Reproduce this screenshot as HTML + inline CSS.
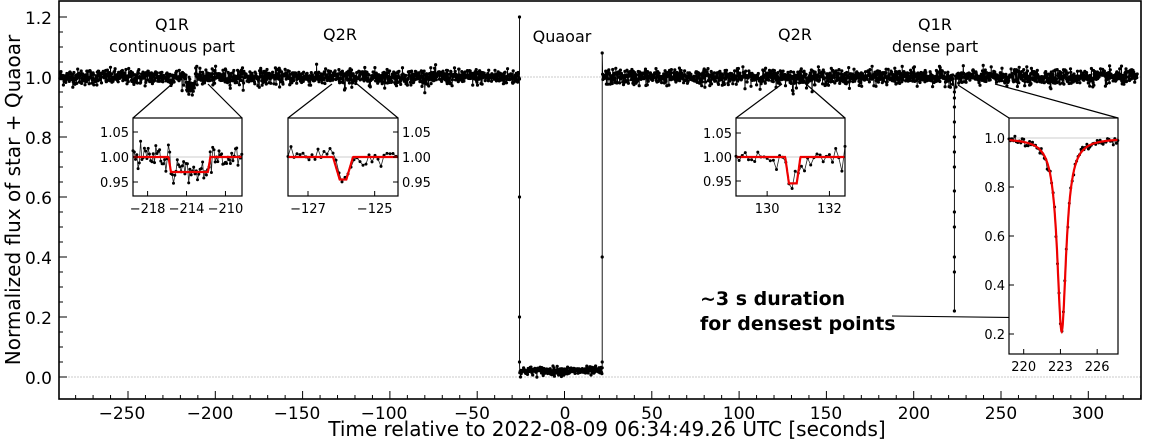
<!DOCTYPE html>
<html><head><meta charset="utf-8"><style>
html,body{margin:0;padding:0;background:#fff;}
svg{display:block;font-family:"DejaVu Sans","Liberation Sans",sans-serif;}
</style></head><body>
<svg id="s" width="1152" height="439" viewBox="0 0 1152 439" xmlns="http://www.w3.org/2000/svg">
<rect width="1152" height="439" fill="#fff"/>
<g id="main"></g>
<rect x="59" y="1" width="1082" height="398" fill="none" stroke="#000" stroke-width="1.6"/>
<g font-size="17" fill="#000" text-anchor="end">
<text x="52" y="384">0.0</text><text x="52" y="324">0.2</text><text x="52" y="264">0.4</text>
<text x="52" y="204">0.6</text><text x="52" y="144">0.8</text><text x="52" y="84">1.0</text><text x="52" y="24">1.2</text>
</g>
<g font-size="17" fill="#000" text-anchor="middle">
<text x="122" y="419">−250</text><text x="210" y="419">−200</text><text x="297" y="419">−150</text>
<text x="384" y="419">−100</text><text x="472" y="419">−50</text><text x="565" y="419">0</text>
<text x="652" y="419">50</text><text x="739" y="419">100</text><text x="826" y="419">150</text>
<text x="914" y="419">200</text><text x="1001" y="419">250</text><text x="1088" y="419">300</text>
</g>
<text x="607" y="436" font-size="20" text-anchor="middle">Time relative to 2022-08-09 06:34:49.26 UTC [seconds]</text>
<text transform="translate(20,200) rotate(-90)" font-size="20" text-anchor="middle">Normalized flux of star + Quaoar</text>
<g font-size="16" text-anchor="middle">
<text x="172" y="30">Q1R</text><text x="172" y="52">continuous part</text>
<text x="340" y="40">Q2R</text><text x="562" y="42">Quaoar</text>
<text x="795" y="40">Q2R</text><text x="935" y="30">Q1R</text><text x="935" y="52">dense part</text>
</g>
<g font-size="19" font-weight="bold">
<text x="700" y="305">~3 s duration</text><text x="700" y="330">for densest points</text>
</g>
<line x1="892" y1="316" x2="1052" y2="318" stroke="#000" stroke-width="1"/>
<g stroke="#000" stroke-width="1.2">
<line x1="133" y1="118" x2="172" y2="84"/><line x1="242" y1="118" x2="208" y2="84"/>
<line x1="288" y1="118" x2="332" y2="84"/><line x1="398" y1="118" x2="357" y2="84"/>
<line x1="736" y1="118" x2="782" y2="84"/><line x1="845" y1="118" x2="806" y2="84"/>
<line x1="1009" y1="118" x2="958" y2="85"/><line x1="1118" y1="118" x2="995" y2="84"/>
</g>
<g id="insets"></g>
</svg>
<script>
var NS="http://www.w3.org/2000/svg";
var seed=12345;function rnd(){seed=(seed*1103515245+12345)%2147483648;return seed/2147483648;}
function gauss(){var u=rnd()||1e-9,v=rnd();return Math.sqrt(-2*Math.log(u))*Math.cos(2*Math.PI*v);}
function el(p,tag,a){var e=document.createElementNS(NS,tag);for(var k in a)e.setAttribute(k,a[k]);p.appendChild(e);return e;}
var main=document.getElementById('main');
function X(t){return 564.5+1.746*t;}function Y(f){return 377-300*f;}
var g=main;
el(g,'line',{x1:59,y1:77,x2:1141,y2:77,stroke:'#bbb','stroke-width':0.8,'stroke-dasharray':'2,1'});
el(g,'line',{x1:59,y1:377,x2:1141,y2:377,stroke:'#bbb','stroke-width':0.8,'stroke-dasharray':'2,1'});
for(var t=-280;t<=330;t+=10){var x=X(t);el(g,'line',{x1:x,y1:399,x2:x,y2:(t%50==0)?391:395,stroke:'#000','stroke-width':1});}
for(var f=0;f<=1.25;f+=0.05){var y=Y(f);var maj=Math.abs(f*5-Math.round(f*5))<1e-6;el(g,'line',{x1:59,y1:y,x2:maj?67:63,y2:y,stroke:'#000','stroke-width':1});}
var pts=[];var ing=false,egr=false,dip=false;
for(var t=-289;t<=328;t+=0.2){
 var f;
 if(t>-25.8&&t<21.6){
   if(!ing){ing=true;pts.push([X(-25.8),Y(1.2)]);pts.push([X(-25.8),Y(0.6)]);pts.push([X(-25.8),Y(0.2)]);pts.push([X(-25.8),Y(0.05)]);}
   f=0.02+0.007*gauss();
 } else {
   if(t>=21.6&&!egr){egr=true;pts.push([X(21.6),Y(0.05)]);pts.push([X(21.6),Y(0.4)]);pts.push([X(21.6),Y(1.08)]);}
   f=1+0.013*gauss();
 }
 if(Math.abs(t+214)<2.5)f-=0.03;
 if(Math.abs(t+125.9)<0.3)f-=0.04;
 if(Math.abs(t-130.8)<0.3)f-=0.05;
 if(Math.abs(t-223.3)<0.6){
   if(!dip){dip=true;[0.95,0.9,0.8,0.7,0.55,0.4,0.22,0.35,0.5,0.62,0.75,0.85,0.93].forEach(function(v){pts.push([X(223.3),Y(v)]);});}
   continue;
 }
 pts.push([X(t),Y(f)]);
}
var s='';for(var i=0;i<pts.length;i++)s+=pts[i][0].toFixed(1)+','+pts[i][1].toFixed(1)+' ';
el(g,'polyline',{points:s,fill:'none',stroke:'#000','stroke-width':0.9});
var d='';for(var i=0;i<pts.length;i+=1)d+='M'+pts[i][0].toFixed(1)+' '+pts[i][1].toFixed(1)+'h0.01';
el(g,'path',{d:d,stroke:'#000','stroke-width':3.2,'stroke-linecap':'round',fill:'none'});
var ins=document.getElementById('insets');
function inset(o){
 var G=el(ins,'g',{});
 el(G,'rect',{x:o.x0,y:118,width:o.x1-o.x0,height:o.y1-118,fill:'#fff'});
 var xs=function(t){return o.x0+(t-o.t0)/(o.t1-o.t0)*(o.x1-o.x0);};
 var ys=function(f){return o.yref+(o.fref-f)*o.py;};
 el(G,'line',{x1:o.x0,y1:ys(1),x2:o.x1,y2:ys(1),stroke:'#bbb','stroke-width':0.8});
 var s='',dd='',m='';
 for(var t=o.t0;t<=o.t1;t+=o.dt){var f=o.model(t)+o.sd*gauss();s+=xs(t).toFixed(1)+','+ys(f).toFixed(1)+' ';dd+='M'+xs(t).toFixed(1)+' '+ys(f).toFixed(1)+'h0.01';}
 for(var t=o.t0;t<=o.t1;t+=(o.t1-o.t0)/300){m+=xs(t).toFixed(1)+','+ys(o.model(t)).toFixed(1)+' ';}
 el(G,'polyline',{points:s,fill:'none',stroke:'#222','stroke-width':0.8});
 el(G,'path',{d:dd,stroke:'#000','stroke-width':3,'stroke-linecap':'round'});
 el(G,'polyline',{points:m,fill:'none',stroke:'#e00','stroke-width':2.2});
 el(G,'rect',{x:o.x0,y:118,width:o.x1-o.x0,height:o.y1-118,fill:'none',stroke:'#000','stroke-width':1.2});
 o.xt.forEach(function(t){var x=xs(t);el(G,'line',{x1:x,y1:o.y1,x2:x,y2:o.y1-5,stroke:'#000'});var tx=el(G,'text',{x:x,y:o.y1+17,'font-size':13,'text-anchor':'middle'});tx.textContent=(t<0?'−'+(-t):t);});
 o.yt.forEach(function(f){var y=ys(f);var xe=o.right?o.x1:o.x0;el(G,'line',{x1:xe,y1:y,x2:o.right?xe-5:xe+5,y2:y,stroke:'#000'});var tx=el(G,'text',{x:o.right?xe+4:xe-4,y:y+5,'font-size':13,'text-anchor':o.right?'start':'end'});tx.textContent=f.toFixed(o.dec);});
}
function trap(t,a,b,r,depth){var v;if(t<a-r||t>b+r)v=0;else if(t<a)v=(t-(a-r))/r;else if(t>b)v=((b+r)-t)/r;else v=1;return 1-depth*v;}
inset({x0:133,x1:242,y1:196,t0:-219.5,t1:-208.3,dt:0.13,yref:157,fref:1,py:500,sd:0.012,xt:[-218,-214,-210],yt:[1.05,1,0.95],dec:2,
 model:function(t){return trap(t,-215.6,-211.8,0.25,0.03);}});
inset({x0:288,x1:398,y1:196,t0:-127.6,t1:-124.3,dt:0.09,yref:157,fref:1,py:500,sd:0.01,right:true,xt:[-127,-125],yt:[1.05,1,0.95],dec:2,
 model:function(t){return trap(t,-126.05,-125.85,0.2,0.045);}});
inset({x0:736,x1:845,y1:196,t0:129,t1:132.5,dt:0.1,yref:157,fref:1,py:480,sd:0.012,xt:[130,132],yt:[1.05,1,0.95],dec:2,
 model:function(t){return trap(t,130.7,130.95,0.12,0.055);}});
inset({x0:1009,x1:1118,y1:354,t0:218.8,t1:227.7,dt:0.12,yref:138,fref:1,py:245,sd:0.008,xt:[220,223,226],yt:[1,0.8,0.6,0.4,0.2],dec:1,
 model:function(t){var u=(t-223.1)/0.45;return 1-0.79/(1+u*u);}});
</script>
</body></html>
